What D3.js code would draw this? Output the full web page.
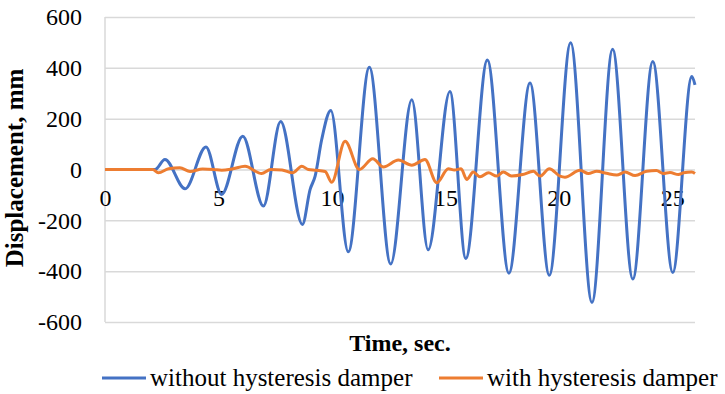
<!DOCTYPE html>
<html>
<head>
<meta charset="utf-8">
<script src="https://cdn.jsdelivr.net/npm/d3@7"></script>
<style>
  body { margin: 0; background: #fff; }
  svg text { font-family: "Liberation Serif", "Times New Roman", serif; fill: #000; }
</style>
</head>
<body>
<svg id="chart" width="725" height="394"></svg>
<script>
// Series (time in sec, displacement in mm)
const blueTime = [0, 2.2, 2.64, 3.53, 4.45, 5.14, 6.07, 6.98, 7.74, 8.7, 9.04, 9.26, 9.55, 9.95,
  10.72, 11.65, 12.59, 13.52, 14.24, 15.2, 15.9, 16.85, 17.8, 18.73, 19.58, 20.52, 21.46,
  22.37, 23.26, 24.14, 25.02, 25.86, 26];
const blueValues = [0, 0, 39, -76, 89, -98, 131, -144, 189, -216, -78, -26, 118, 232,
  -324, 402, -372, 274, -316, 307, -350, 431, -408, 340, -416, 499, -523,
  473, -431, 425, -405, 366, 333];

const orangeTime = [0, 2.1, 2.35, 2.8, 3.3, 3.75, 4.3, 4.8, 5.14, 5.6, 6.17, 6.9, 7.3, 7.8, 8.27, 8.67,
  8.96, 9.3, 9.7, 9.99, 10.58, 11.21, 11.8, 12.27, 12.93, 13.52, 14.1, 14.62, 15.13, 15.4, 15.69,
  15.94, 16.23, 16.53, 16.9, 17.26, 17.55, 17.92, 18.4, 18.88, 19.17, 19.58, 20.05, 20.27, 20.93,
  21.3, 21.67, 22.1, 22.55, 22.92, 23.36, 23.87, 24.3, 24.6, 24.9, 25.27, 25.5, 25.86, 26];
const orangeValues = [0, 0, -13, 3, 7, -8, 2, 0, -3, 2, 13, -16, 0, -2, -13, 13,
  0, -3, -8, -50, 111, 0, 42, 10, 37, 17, 39, -52, 3, -2, 3,
  -39, -10, -29, -13, -26, -10, -26, -20, -7, -26, 3, -26, -30, -3,
  -16, -7, -15, -22, -10, -24, -7, -4, -16, -12, -20, -13, -10, -16];

const yTicks = [-600, -400, -200, 0, 200, 400, 600];
const xTicks = [0, 5, 10, 15, 20, 25];
const seriesNames = ["without hysteresis damper", "with hysteresis damper"];
const colors = ["#4472C4", "#ED7D31"];

const svg = d3.select('#chart');
const plot = { left: 105, right: 695, top: 17, bottom: 322 };

const x = d3.scaleLinear().domain([0, 26]).range([plot.left, plot.right]);
const y = d3.scaleLinear().domain([-600, 600]).range([plot.bottom, plot.top]);

// gridlines + y labels (plain hyphen for negatives, like the original)
const yAxis = svg.append('g')
    .attr('transform', `translate(${plot.left},0)`)
    .call(d3.axisLeft(y)
        .tickValues(yTicks)
        .tickFormat(d => String(d))
        .tickSize(-(plot.right - plot.left))
        .tickPadding(23));
yAxis.select('.domain').remove();
yAxis.selectAll('line').attr('stroke', '#D9D9D9').attr('stroke-width', 1.5);
yAxis.selectAll('text').attr('font-size', 24);

// vertical axis line
svg.append('line')
    .attr('x1', plot.left).attr('x2', plot.left)
    .attr('y1', plot.top).attr('y2', plot.bottom)
    .attr('stroke', '#D9D9D9').attr('stroke-width', 1.5);

// x labels sit under the zero line
const xAxis = svg.append('g')
    .attr('transform', `translate(0,${y(0)})`)
    .call(d3.axisBottom(x).tickValues(xTicks).tickFormat(d => String(d)).tickSize(0).tickPadding(19));
xAxis.select('.domain').remove();
xAxis.selectAll('text').attr('font-size', 24);

// lines
const line = d3.line()
    .x(d => x(d[0]))
    .y(d => y(d[1]))
    .curve(d3.curveMonotoneX);

const series = [
    d3.zip(blueTime, blueValues),
    d3.zip(orangeTime, orangeValues)
];

svg.selectAll('path.series')
    .data(series)
    .enter()
    .append('path')
    .attr('class', 'series')
    .attr('fill', 'none')
    .attr('stroke', (d, i) => colors[i])
    .attr('stroke-width', 3)
    .attr('stroke-linejoin', 'round')
    .attr('d', line);

// axis titles
svg.append('text')
    .attr('x', 400).attr('y', 351)
    .attr('text-anchor', 'middle')
    .attr('font-size', 24).attr('font-weight', 'bold')
    .text('Time, sec.');

svg.append('text')
    .attr('transform', 'translate(23,168) rotate(-90)')
    .attr('text-anchor', 'middle')
    .attr('font-size', 25).attr('font-weight', 'bold')
    .text('Displacement, mm');

// legend
const legendPos = [102, 439];
const legend = svg.selectAll('g.legend')
    .data(seriesNames)
    .enter()
    .append('g')
    .attr('class', 'legend')
    .attr('transform', (d, i) => `translate(${legendPos[i]},378)`);

legend.append('line')
    .attr('x1', 0).attr('x2', 44)
    .attr('stroke', (d, i) => colors[i])
    .attr('stroke-width', 3);

legend.append('text')
    .attr('x', 48).attr('y', 8)
    .attr('font-size', 25)
    .text(d => d);
</script>
</body>
</html>
